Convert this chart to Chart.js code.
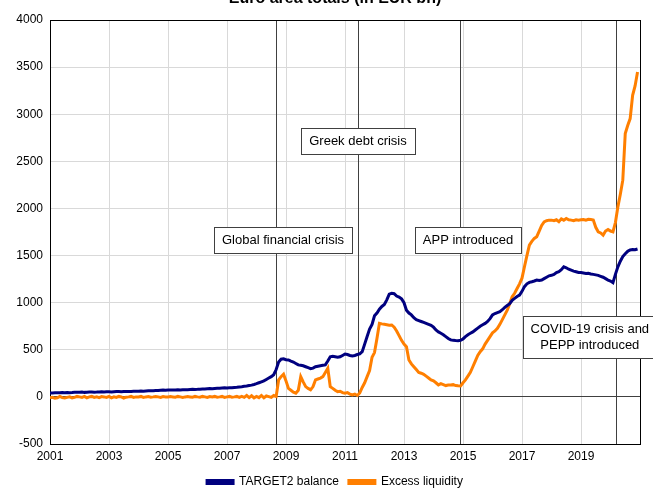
<!DOCTYPE html>
<html>
<head>
<meta charset="utf-8">
<script src="https://cdn.jsdelivr.net/npm/chart.js@4/dist/chart.umd.min.js"></script>
<style>
  html, body { margin: 0; padding: 0; background: #fff; }
</style>
</head>
<body>
<canvas id="chart" width="653" height="489"></canvas>
<script>
// monthly values, Jan 2001 .. Dec 2020 (EUR bn)
const startYear = 2001;
const seriesNames = ['TARGET2 balance', 'Excess liquidity'];

const target2 = [
  40, 42, 45, 43, 44, 46, 45, 47, 45, 46, 48, 50,
  50, 52, 48, 50, 53, 52, 50, 51, 53, 55, 52, 54,
  55, 53, 55, 57, 56, 55, 58, 57, 56, 58, 60, 59,
  60, 62, 61, 63, 65, 64, 66, 68, 67, 70, 72, 71,
  72, 73, 72, 74, 75, 74, 76, 77, 76, 78, 80, 79,
  80, 82, 84, 83, 86, 88, 87, 90, 92, 91, 94, 96,
  95, 97, 96, 100, 102, 105, 108, 112, 115, 120, 125, 132,
  140, 150, 160, 170, 185, 200, 215, 235, 290, 370, 400, 405,
  395, 392, 380, 370, 355, 340, 335, 330, 320, 310, 300, 305,
  320, 325, 330, 335, 340, 380, 425, 430, 425, 420, 425, 440,
  455, 450, 440, 435, 440, 450, 456, 480, 560, 640, 720, 770,
  860, 890, 930, 960, 980, 1030, 1090, 1100, 1095, 1070, 1060, 1040,
  1000, 920, 890, 870, 840, 820, 810, 800, 790, 780, 770, 760,
  740, 710, 690, 675, 660, 640, 620, 605, 600, 598, 597, 600,
  615, 640, 660, 675, 690, 710, 730, 750, 765, 780, 800, 830,
  870, 885, 895, 905, 925, 950, 970, 990, 1025, 1045, 1065, 1080,
  1120, 1170, 1200, 1215, 1222, 1230, 1240, 1235, 1240, 1255, 1270, 1285,
  1290, 1300, 1320, 1330, 1350, 1380, 1370, 1355, 1345, 1335, 1328, 1320,
  1320, 1315, 1310, 1312, 1305, 1300, 1295, 1290, 1280, 1270, 1255, 1240,
  1230, 1212, 1300, 1380, 1440, 1490, 1520, 1545, 1560, 1565, 1562, 1570
];

const excess = [
  -10, -5, -15, -10, 5, -8, -12, -5, 0, -10, -5, 5,
  0, -5, 5, -10, 0, 5, -5, 0, -8, 3, 0, -5,
  5, -10, 0, -5, 5, 0, -12, -3, 0, 5, -5, 0,
  0, 5, -5, 0, 3, -3, 0, 5, 0, -5, 3, 0,
  0, 3, 0, -3, 5, 0, -5, 0, 3, 0, -3, 5,
  0, -3, 5, 0, -5, 3, 0, 5, -3, 0, 5, -5,
  0, 5, -3, 0, 5, -5, 5, -5, 15, -8, 12, -10,
  5, -8, 15, -10, 10, 3, -5, 15, 5, 180, 215, 240,
  170, 90, 70, 50, 39, 70, 215, 160, 109, 90, 75, 110,
  180, 190, 200, 215, 260, 304, 109, 90, 70, 56, 60, 45,
  39, 45, 30, 21, 30, 15, 42, 100, 150, 215, 280, 420,
  470, 620, 781, 775, 770, 765, 760, 763, 740, 700, 650, 600,
  560, 533, 392, 350, 320, 290, 260, 251, 240, 220, 200, 180,
  170, 150, 127, 140, 130, 120, 125, 127, 130, 120, 117, 115,
  150, 180, 220, 260, 320, 380, 440, 480, 510, 560, 600, 640,
  680, 700, 728, 770, 820, 870, 920, 990, 1063, 1100, 1150, 1200,
  1260, 1381, 1500, 1611, 1650, 1682, 1700, 1760, 1820, 1858, 1870, 1876,
  1876, 1870, 1880, 1860, 1890, 1876, 1894, 1880, 1876, 1870, 1880, 1876,
  1880, 1883, 1875, 1885, 1883, 1878, 1800, 1752, 1740, 1717, 1760, 1777,
  1760, 1752, 1850, 2017, 2150, 2300, 2795, 2880, 2954, 3201, 3300, 3448
];

const yearTicks = [2001, 2003, 2005, 2007, 2009, 2011, 2013, 2015, 2017, 2019];

// vertical event markers (decimal year)
const eventDates = [2008.67, 2011.45, 2014.9, 2020.17];

// annotation boxes anchored at (year, value) = box centre
const notes = [
  { lines: ['Global financial crisis'], x: 2008.9, y: 1664 },
  { lines: ['Greek debt crisis'], x: 2011.44, y: 2714 },
  { lines: ['APP introduced'], x: 2015.17, y: 1664 },
  { lines: ['COVID-19 crisis and', 'PEPP introduced'], x: 2019.3, y: 636 }
];

const FONT = '"Liberation Sans", Arial, sans-serif';

function toPoints(arr) {
  return arr.map((v, i) => ({ x: startYear + i / 12, y: v }));
}

const extras = {
  id: 'extras',
  afterLayout(chart) {
    // legend sits a bit right of the canvas centre
    if (chart.legend) {
      chart.legend.left += 15;
      chart.legend.right += 15;
    }
  },
  beforeDatasetsDraw(chart) {
    const { ctx, chartArea: a, scales: { x } } = chart;
    ctx.save();
    ctx.strokeStyle = '#404040';
    ctx.lineWidth = 1;
    eventDates.forEach(d => {
      const px = Math.round(x.getPixelForValue(d)) + 0.5;
      ctx.beginPath();
      ctx.moveTo(px, a.top);
      ctx.lineTo(px, a.bottom);
      ctx.stroke();
    });
    // plot frame
    ctx.strokeStyle = '#000';
    ctx.strokeRect(Math.round(a.left) + 0.5, Math.round(a.top) + 0.5,
      Math.round(a.right - a.left), Math.round(a.bottom - a.top));
    ctx.restore();
  },
  afterDatasetsDraw(chart) {
    const { ctx, scales: { x, y } } = chart;
    ctx.save();
    ctx.font = '13px ' + FONT;
    ctx.textAlign = 'center';
    ctx.textBaseline = 'middle';
    notes.forEach(n => {
      const cx = x.getPixelForValue(n.x);
      const cy = y.getPixelForValue(n.y);
      const tw = Math.max(...n.lines.map(l => ctx.measureText(l).width));
      const w = Math.round(tw + 16);
      const lh = 16;
      const h = Math.round(n.lines.length * lh + 10);
      const left = Math.round(cx - w / 2) + 0.5;
      const top = Math.round(cy - h / 2) + 0.5;
      ctx.fillStyle = '#fff';
      ctx.fillRect(left, top, w, h);
      ctx.strokeStyle = '#404040';
      ctx.lineWidth = 1;
      ctx.strokeRect(left, top, w, h);
      ctx.fillStyle = '#000';
      n.lines.forEach((l, i) => {
        ctx.fillText(l, cx, cy + (i - (n.lines.length - 1) / 2) * lh);
      });
    });
    ctx.restore();
  },
  afterDraw(chart) {
    // title, mostly cropped off the top of the picture
    const ctx = chart.ctx;
    ctx.save();
    ctx.font = 'bold 16px ' + FONT;
    ctx.fillStyle = '#000';
    ctx.textAlign = 'center';
    ctx.textBaseline = 'alphabetic';
    ctx.fillText('Euro area totals (in EUR bn)', 335, 3);
    ctx.restore();
  }
};

new Chart(document.getElementById('chart'), {
  type: 'line',
  data: {
    datasets: [
      {
        label: seriesNames[0],
        data: toPoints(target2),
        borderColor: '#00007f',
        backgroundColor: '#00007f',
        borderWidth: 3,
        pointRadius: 0,
        tension: 0
      },
      {
        label: seriesNames[1],
        data: toPoints(excess),
        borderColor: '#ff7f00',
        backgroundColor: '#ff7f00',
        borderWidth: 3,
        pointRadius: 0,
        tension: 0
      }
    ]
  },
  options: {
    responsive: false,
    animation: false,
    layout: { padding: { top: 20, right: 13, left: 0, bottom: -9 } },
    plugins: {
      title: { display: false },
      tooltip: { enabled: false },
      legend: {
        position: 'bottom',
        labels: {
          boxWidth: 26,
          boxHeight: 3,
          padding: 10,
          color: '#000',
          font: { family: FONT, size: 12 }
        }
      }
    },
    scales: {
      x: {
        type: 'linear',
        min: 2001,
        max: 2021,
        afterBuildTicks: s => { s.ticks = yearTicks.map(v => ({ value: v })); },
        afterFit: s => { s.height = 22; },
        ticks: {
          color: '#000',
          font: { family: FONT, size: 12 },
          padding: 5,
          maxRotation: 0,
          callback: v => String(v)
        },
        grid: { color: '#d9d9d9', drawTicks: false },
        border: { color: '#000' }
      },
      y: {
        min: -500,
        max: 4000,
        afterFit: s => { s.width = 50; },
        ticks: {
          stepSize: 500,
          color: '#000',
          font: { family: FONT, size: 12 },
          padding: 7,
          callback: v => String(v)
        },
        grid: {
          color: c => c.tick.value === 0 ? '#404040' : '#d9d9d9',
          drawTicks: false
        },
        border: { color: '#000' }
      }
    }
  },
  plugins: [extras]
});
</script>
</body>
</html>
